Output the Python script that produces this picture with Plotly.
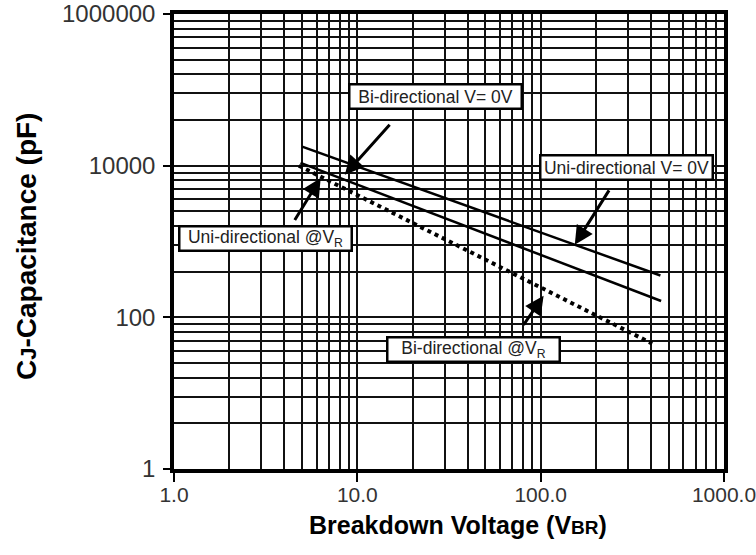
import plotly.graph_objects as go

# ---- data ----
vbr_uni_0v = [5.0, 450.0]
cap_uni_0v = [17800.0, 356.0]

vbr_bi_0v = [4.9, 454.0]
cap_bi_0v = [10900.0, 164.0]

vbr_at_vr = [4.8, 406.0]
cap_at_vr = [10000.0, 45.0]

x_tickvals = [1, 10, 100, 1000]
x_ticktext = ["1.0", "10.0", "100.0", "1000.0"]
y_tickvals = [1, 100, 10000, 1000000]
y_ticktext = ["1", "100", "10000", "1000000"]

# grid structure: y grid spaced as a log grid over 2-decade steps
y_minor = [k * k * 100 ** n for n in range(3) for k in range(2, 10)]

FONT = "Liberation Sans, Arial, sans-serif"
BLACK = "#000000"

W, H = 756, 555
L, T = 174, 14
R = W - 724
B = H - 469
PW, PH = W - L - R, H - T - B

def px_x(sx):  # screen x -> paper x
    return (sx - L) / PW

def px_y(sy):  # screen y -> paper y
    return (H - B - sy) / PH

fig = go.Figure()
fig.add_trace(go.Scatter(x=vbr_uni_0v, y=cap_uni_0v, mode="lines",
                         line=dict(color=BLACK, width=2.5), name="Uni-directional V=0V"))
fig.add_trace(go.Scatter(x=vbr_bi_0v, y=cap_bi_0v, mode="lines",
                         line=dict(color=BLACK, width=2.5), name="Bi-directional V=0V"))
fig.add_trace(go.Scatter(x=vbr_at_vr, y=cap_at_vr, mode="lines",
                         line=dict(color=BLACK, width=4, dash="4px,4px"), name="@VR"))

# label boxes (centre positions in log units)
boxes = [
    ("Bi-directional V= 0V", 1.4247, 4.913),
    ("Uni-directional V= 0V", 2.466, 3.971),
    ("Uni-directional @V<sub>R</sub>", 0.4986, 3.041),
    ("Bi-directional @V<sub>R</sub>", 1.633, 1.580),
]
for txt, bx, by in boxes:
    fig.add_annotation(x=bx, y=by, xref="x", yref="y", text=txt, showarrow=False,
                       font=dict(family=FONT, size=17.5, color="#222"),
                       bgcolor="white", bordercolor=BLACK, borderwidth=2.5,
                       borderpad=1, width=168, height=20)

# arrows: (head_x, head_y, tail_x, tail_y) in log units
arrows = [
    (0.9315, 3.879, 1.1836, 4.560),
    (2.186, 2.957, 2.378, 3.694),
    (0.800, 3.839, 0.6537, 3.263),
    (2.016, 2.285, 1.901, 1.880),
]
for hx, hy, tx, ty in arrows:
    fig.add_annotation(x=hx, y=hy, ax=tx, ay=ty, xref="x", yref="y", axref="x", ayref="y",
                       text="", showarrow=True, arrowhead=2, arrowsize=1.25,
                       arrowwidth=3, arrowcolor=BLACK)

# axis titles as annotations for exact placement
fig.add_annotation(text="<b>Breakdown Voltage (V<span style='font-size:19px'>BR</span>)</b>",
                   xref="paper", yref="paper", x=px_x(458), y=px_y(525),
                   xanchor="center", yanchor="middle", showarrow=False,
                   font=dict(family=FONT, size=25, color=BLACK))
fig.add_annotation(text="<b>C<span style='font-size:22px'>J</span>-Capacitance (pF)</b>",
                   xref="paper", yref="paper", x=px_x(27), y=px_y(247),
                   xanchor="center", yanchor="middle", showarrow=False, textangle=-90,
                   font=dict(family=FONT, size=28, color=BLACK))

axis_common = dict(
    type="log",
    automargin=False,
    showline=True, linewidth=3.5, linecolor=BLACK, mirror=True,
    showgrid=True, gridcolor="#111", gridwidth=1.7,
    ticks="outside", tickcolor=BLACK, tickwidth=1.5,
    ticklabeloverflow="allow",
    zeroline=False,
)

fig.update_xaxes(
    **axis_common,
    range=[0, 3],
    tickvals=x_tickvals, ticktext=x_ticktext, ticklen=9, ticklabelstandoff=-5,
    tickfont=dict(family=FONT, size=21, color="#333"),
    minor=dict(dtick="D1", showgrid=True, gridcolor="#111", gridwidth=1.7, ticks=""),
)
fig.update_yaxes(
    **axis_common,
    range=[0, 6],
    tickvals=y_tickvals, ticktext=y_ticktext, ticklen=7, ticklabelstandoff=3,
    tickfont=dict(family=FONT, size=24, color="#333"),
    minor=dict(tickmode="array", tickvals=y_minor, showgrid=True, gridcolor="#111",
               gridwidth=1.7, ticks=""),
)

fig.update_layout(
    width=W, height=H,
    margin=dict(l=L, r=R, t=T, b=B),
    plot_bgcolor="white", paper_bgcolor="white",
    showlegend=False,
    font=dict(family=FONT),
)

fig.write_html("out.html", config={"displayModeBar": False},
               post_script="document.body.style.margin='0px';document.body.style.overflow='hidden';")
